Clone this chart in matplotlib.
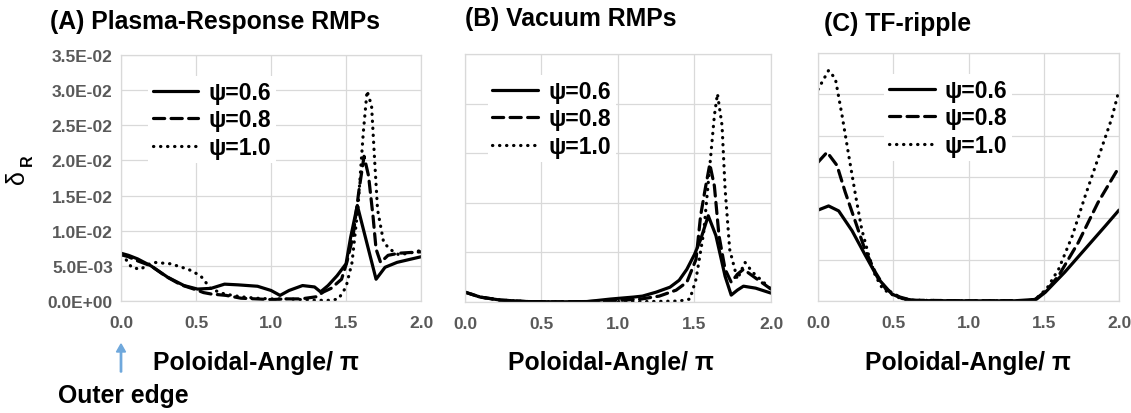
import matplotlib
matplotlib.use('Agg')
import matplotlib.pyplot as plt
from matplotlib.ticker import FuncFormatter, MultipleLocator

plt.rcParams['font.family'] = ['Liberation Sans', 'DejaVu Sans']
plt.rcParams['font.weight'] = 'bold'

# --- дані (значення у 1e-3) ---
# (A) Plasma-Response RMPs
a_th_06 = [0, 0.05, 0.11, 0.2, 0.31, 0.42, 0.51, 0.6, 0.69, 0.78, 0.91, 1.0, 1.06, 1.12,
           1.21, 1.29, 1.33, 1.38, 1.44, 1.5, 1.53, 1.575, 1.6, 1.65, 1.70, 1.76, 1.84, 1.92, 2.0]
a_v_06 = [6.8, 6.5, 6.0, 5.0, 3.4, 2.2, 1.7, 1.8, 2.4, 2.3, 2.1, 1.5, 0.8, 1.5,
          2.2, 2.0, 1.3, 2.2, 3.6, 5.3, 9.0, 13.6, 11.5, 7.3, 3.1, 4.8, 5.5, 5.9, 6.3]
a_th_08 = [0, 0.05, 0.1, 0.2, 0.3, 0.4, 0.5, 0.55, 0.6, 0.7, 0.8, 0.9, 1.0, 1.1, 1.2, 1.3,
           1.35, 1.4, 1.47, 1.505, 1.547, 1.587, 1.62, 1.65, 1.68, 1.70, 1.73, 1.78, 1.85, 2.0]
a_v_08 = [6.6, 6.3, 5.8, 5.0, 3.5, 2.3, 1.6, 1.2, 1.0, 0.8, 0.4, 0.3, 0.2, 0.3, 0.3, 0.6,
          1.3, 1.8, 3.1, 5.5, 9.3, 15.9, 20.6, 17.8, 12.0, 7.4, 5.5, 6.5, 6.8, 7.0]
a_th_10 = [0, 0.03, 0.07, 0.13, 0.18, 0.22, 0.33, 0.45, 0.53, 0.6, 0.69, 0.8, 0.9, 1.0, 1.1,
           1.2, 1.3, 1.4, 1.45, 1.5, 1.54, 1.58, 1.615, 1.64, 1.67, 1.69, 1.71, 1.75, 1.79,
           1.85, 1.92, 2.0]
a_v_10 = [6.5, 6.0, 4.8, 4.5, 5.2, 5.5, 5.3, 4.5, 3.6, 1.7, 1.0, 0.6, 0.4, 0.3, 0.3,
          0.2, 0.1, 0.1, 0.3, 2.0, 5.5, 13.5, 24.0, 29.9, 27.8, 20.2, 13.0, 8.4, 7.4,
          6.6, 6.8, 7.2]

# (B) Vacuum RMPs
b_th_06 = [0, 0.1, 0.23, 0.4, 0.6, 0.8, 0.95, 1.1, 1.16, 1.25, 1.34, 1.4, 1.45, 1.5, 1.54,
           1.59, 1.64, 1.70, 1.74, 1.78, 1.82, 1.9, 2.0]
b_v_06 = [1.0, 0.5, 0.2, 0.05, 0.02, 0.05, 0.3, 0.5, 0.6, 1.0, 1.5, 2.2, 3.3, 4.8, 6.3,
          8.7, 6.7, 2.6, 0.7, 1.2, 1.6, 1.4, 0.9]
b_th_08 = [0, 0.1, 0.23, 0.4, 0.6, 0.8, 1.0, 1.15, 1.27, 1.38, 1.45, 1.51, 1.54, 1.57, 1.60,
           1.63, 1.66, 1.70, 1.74, 1.78, 1.82, 1.91, 2.0]
b_v_08 = [1.0, 0.5, 0.2, 0.05, 0.02, 0.05, 0.15, 0.3, 0.6, 1.2, 2.0, 4.3, 8.7, 11.4, 13.9,
          11.7, 6.7, 3.3, 2.0, 2.8, 3.3, 2.3, 1.3]
b_th_10 = [0, 0.1, 0.23, 0.4, 0.6, 0.8, 1.0, 1.2, 1.4, 1.47, 1.51, 1.56, 1.60, 1.63, 1.65,
           1.68, 1.70, 1.73, 1.78, 1.83, 1.88, 1.93, 2.0]
b_v_10 = [1.0, 0.5, 0.2, 0.05, 0.02, 0.02, 0.05, 0.05, 0.1, 0.3, 2.3, 7.0, 13.7, 18.8, 21.0,
          17.8, 11.4, 5.3, 2.3, 4.0, 3.0, 2.3, 1.3]

# (C) TF-ripple
c_th_06 = [0, 0.07, 0.137, 0.226, 0.315, 0.40, 0.49, 0.56, 0.65, 1.0, 1.3, 1.45, 1.51,
           1.64, 1.775, 1.91, 2.0]
c_v_06 = [11.0, 11.5, 10.9, 8.5, 5.5, 2.7, 0.85, 0.3, 0.05, 0.02, 0.02, 0.2, 1.05,
          3.5, 6.3, 9.1, 11.0]
c_th_08 = [0, 0.06, 0.126, 0.18, 0.25, 0.31, 0.38, 0.45, 0.54, 0.62, 1.0, 1.4, 1.45, 1.52,
           1.60, 1.73, 1.86, 2.0]
c_v_08 = [16.8, 18.0, 16.4, 13.2, 9.5, 6.3, 3.5, 1.45, 0.5, 0.1, 0.02, 0.05, 0.3, 1.3,
          3.1, 7.1, 11.9, 16.2]
c_th_10 = [0, 0.07, 0.115, 0.16, 0.204, 0.25, 0.29, 0.337, 0.38, 0.43, 0.52, 0.6, 1.0, 1.4,
           1.45, 1.52, 1.60, 1.69, 1.775, 1.86, 1.95, 2.0]
c_v_10 = [25.6, 27.9, 26.9, 22.4, 17.6, 12.7, 8.7, 5.5, 3.1, 1.45, 0.5, 0.1, 0.02, 0.05,
          0.3, 1.5, 3.9, 7.9, 12.7, 17.2, 22.0, 25.5]

labels = ["ψ=0.6", "ψ=0.8", "ψ=1.0"]
titles = ["(A) Plasma-Response RMPs", "(B) Vacuum RMPs", "(C) TF-ripple"]
x_ticks = [0.0, 0.5, 1.0, 1.5, 2.0]

panels = [
    [(a_th_06, a_v_06), (a_th_08, a_v_08), (a_th_10, a_v_10)],
    [(b_th_06, b_v_06), (b_th_08, b_v_08), (b_th_10, b_v_10)],
    [(c_th_06, c_v_06), (c_th_08, c_v_08), (c_th_10, c_v_10)],
]
y_tops = [0.035, 0.025, 0.030]

# --- стилі ---
styles = ["-", (0, (3.5, 2)), (0, (0.1, 2.1))]
grid_c = "#d9d9d9"
tick_c = "#595959"

fig = plt.figure(figsize=(11.31, 4.14), dpi=100)
rects = [[0.107, 0.2705, 0.2653, 0.594],
         [0.4111, 0.268, 0.2706, 0.599],
         [0.7233, 0.2705, 0.2661, 0.599]]
leg_x = [0.09, 0.075, 0.22]

for i, ax_rect in enumerate(rects):
    ax = fig.add_axes(ax_rect)
    for (th, v), ls, lab in zip(panels[i], styles, labels):
        ax.plot(th, [z * 1e-3 for z in v], color="black", lw=2.3, linestyle=ls,
                label=lab, dash_capstyle="round", solid_capstyle="round")
    ax.set_xlim(0, 2.0)
    ax.set_ylim(0, y_tops[i])
    ax.set_xticks(x_ticks)
    ax.set_xticklabels([f"{t:.1f}" for t in x_ticks])
    ax.yaxis.set_major_locator(MultipleLocator(0.005))
    ax.grid(True, color=grid_c, lw=0.9)
    ax.set_axisbelow(True)
    for s in ax.spines.values():
        s.set_color(grid_c)
        s.set_linewidth(0.9)
    ax.tick_params(length=0, colors=tick_c, labelsize=12.5, pad=10)
    for t in ax.get_xticklabels() + ax.get_yticklabels():
        t.set_fontweight("bold")
    if i == 0:
        ax.yaxis.set_major_formatter(FuncFormatter(lambda v, _: f"{v:.1E}"))
        ax.tick_params(axis="y", pad=6)
    else:
        ax.set_yticklabels([])
    leg = ax.legend(loc="upper left", bbox_to_anchor=(leg_x[i], 0.915), frameon=True,
                    fancybox=False, edgecolor="none", facecolor="white", framealpha=1,
                    fontsize=16.5, handlelength=2.0, handletextpad=0.45,
                    labelspacing=0.2, borderpad=0.2, borderaxespad=0)
    for t in leg.get_texts():
        t.set_fontweight("bold")

# --- заголовки та підписи ---
fig.text(50 / 1131, 1 - 22 / 414, titles[0], fontsize=17.8, fontweight="bold", va="center")
fig.text(465 / 1131, 1 - 19 / 414, titles[1], fontsize=17.8, fontweight="bold", va="center")
fig.text(824 / 1131, 1 - 24 / 414, titles[2], fontsize=17.8, fontweight="bold", va="center")

fig.text(256 / 1131, 1 - 363 / 414, "Poloidal-Angle/ π", fontsize=17.8, fontweight="bold",
         ha="center", va="center")
fig.text(611 / 1131, 1 - 363 / 414, "Poloidal-Angle/ π", fontsize=17.8, fontweight="bold",
         ha="center", va="center")
fig.text(968 / 1131, 1 - 363 / 414, "Poloidal-Angle/ π", fontsize=17.8, fontweight="bold",
         ha="center", va="center")

fig.text(58 / 1131, 1 - 396 / 414, "Outer edge", fontsize=17.8, fontweight="bold", va="center")
fig.patches.append(matplotlib.patches.FancyArrow(
    121 / 1131, 1 - 373 / 414, 0, 20 / 414, width=0.0012, head_width=0.008,
    head_length=8 / 414, color="#6fa8dc", transform=fig.transFigure, figure=fig))

# δ з індексом R, повернуті на 90°
fig.text(17 / 1131, 1 - 177 / 414, "δ", fontsize=18, fontweight="normal", rotation=90,
         ha="center", va="center")
fig.text(27 / 1131, 1 - 160 / 414, "R", fontsize=11.5, fontweight="bold", rotation=90,
         ha="center", va="center")

plt.savefig("out.png", dpi=100)
